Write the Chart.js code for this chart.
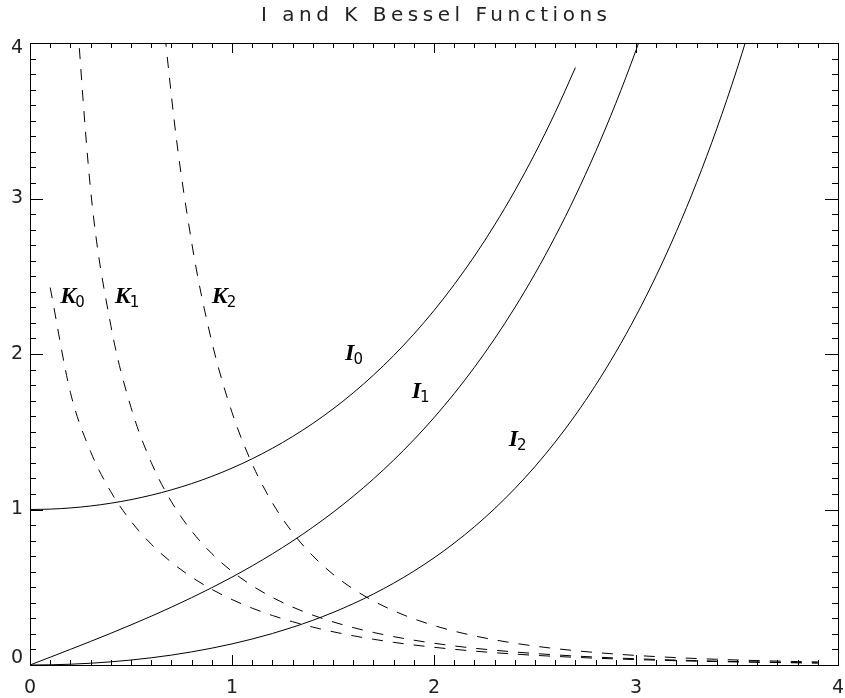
<!DOCTYPE html>
<html>
<head>
<meta charset="utf-8">
<script src="https://cdn.jsdelivr.net/npm/chart.js@4.4.1/dist/chart.umd.min.js"></script>
<style>
 body { margin: 0; background: #fff; }
 #wrap { width: 845px; height: 698px; }
</style>
</head>
<body>
<div id="wrap"><canvas id="besselChart" width="845" height="698"></canvas></div>
<script>
var xValues = [0.0, 0.1, 0.2, 0.3, 0.4, 0.5, 0.6, 0.7, 0.8, 0.9,
 1.0, 1.1, 1.2, 1.3, 1.4, 1.5, 1.6, 1.7, 1.8, 1.9,
 2.0, 2.1, 2.2, 2.3, 2.4, 2.5, 2.6, 2.7, 2.8, 2.9,
 3.0, 3.1, 3.2, 3.3, 3.4, 3.5, 3.6, 3.7, 3.8, 3.9, 4.0];

var i0Values = [1.0000, 1.0025, 1.0100, 1.0226, 1.0404, 1.0635, 1.0920, 1.1263, 1.1665, 1.2130,
 1.2661, 1.3262, 1.3937, 1.4693, 1.5534, 1.6467, 1.7500, 1.8640, 1.9896, 2.1277,
 2.2796, 2.4463, 2.6291, 2.8296, 3.0493, 3.2898, 3.5533, 3.8417, null, null,
 null, null, null, null, null, null, null, null, null, null, null];

var i1Values = [0.0000, 0.0501, 0.1005, 0.1517, 0.2040, 0.2579, 0.3137, 0.3719, 0.4329, 0.4971,
 0.5652, 0.6375, 0.7147, 0.7973, 0.8861, 0.9817, 1.0848, 1.1963, 1.3172, 1.4482,
 1.5906, 1.7455, 1.9141, 2.0978, 2.2981, 2.5167, 2.7554, 3.0161, 3.3011, 3.6126,
 3.9534, 4.3262, null, null, null, null, null, null, null, null, null];

var i2Values = [0.0000, 0.0013, 0.0050, 0.0113, 0.0203, 0.0319, 0.0464, 0.0637, 0.0843, 0.1083,
 0.1357, 0.1671, 0.2025, 0.2427, 0.2875, 0.3378, 0.3940, 0.4566, 0.5260, 0.6033,
 0.6889, 0.7839, 0.8890, 1.0054, 1.1342, 1.2765, 1.4338, 1.6075, 1.7994, 2.0116,
 2.2452, 2.5034, 2.7883, 3.1026, 3.4494, 3.8320, 4.2540, null, null, null, null];

var k0Values = [null, 2.4271, 1.7527, 1.3725, 1.1145, 0.9244, 0.7775, 0.6605, 0.5653, 0.4867,
 0.4210, 0.3656, 0.3185, 0.2782, 0.2437, 0.2138, 0.1880, 0.1655, 0.1459, 0.1288,
 0.1139, 0.1008, 0.0893, 0.0791, 0.0702, 0.0623, 0.0554, 0.0493, 0.0438, 0.0390,
 0.0347, 0.0310, 0.0276, 0.0246, 0.0220, 0.0196, 0.0175, 0.0156, 0.0140, 0.0125, null];

var k1Values = [null, null, 4.7760, 3.0560, 2.1844, 1.6564, 1.3028, 1.0503, 0.8618, 0.7165,
 0.6019, 0.5098, 0.4346, 0.3725, 0.3208, 0.2774, 0.2406, 0.2094, 0.1826, 0.1597,
 0.1399, 0.1227, 0.1079, 0.0950, 0.0837, 0.0739, 0.0653, 0.0577, 0.0511, 0.0453,
 0.0402, 0.0356, 0.0316, 0.0281, 0.0250, 0.0222, 0.0198, 0.0176, 0.0157, 0.0140, null];

var k2Values = [null, null, null, null, null, 7.5500, 5.1200, 3.6610, 2.7200, 2.0790,
 1.6248, 1.2925, 1.0428, 0.8513, 0.7020, 0.5837, 0.4888, 0.4119, 0.3488, 0.2969,
 0.2538, 0.2177, 0.1874, 0.1617, 0.1400, 0.1214, 0.1056, 0.0920, 0.0803, 0.0702,
 0.0615, 0.0540, 0.0474, 0.0416, 0.0367, 0.0323, 0.0285, 0.0251, 0.0223, 0.0197, null];

var tickLabels = ["0", "1", "2", "3", "4"];
var minorPerMajor = 10;
var chartTitle = "I and K Bessel Functions";

// curve labels: letter, subscript, anchor in data units
var curveLabels = [
 { name: "K", sub: "0", x: 0.15, y: 2.33 },
 { name: "K", sub: "1", x: 0.42, y: 2.33 },
 { name: "K", sub: "2", x: 0.90, y: 2.33 },
 { name: "I", sub: "0", x: 1.56, y: 1.96 },
 { name: "I", sub: "1", x: 1.89, y: 1.72 },
 { name: "I", sub: "2", x: 2.37, y: 1.41 }
];

function toPoints(arr) {
 return xValues.map(function (x, i) {
  return { x: x, y: arr[i] };
 });
}

function makeSet(label, arr, dashed) {
 return {
  label: label,
  data: toPoints(arr),
  borderColor: "#000",
  borderWidth: 1,
  borderDash: dashed ? [11, 10] : [],
  pointRadius: 0,
  fill: false,
  cubicInterpolationMode: "monotone",
  spanGaps: false
 };
}

var framePlugin = {
 id: "idlFrame",
 afterDraw: function (chart) {
  var ctx = chart.ctx;
  var a = chart.chartArea;
  var xs = chart.scales.x;
  var ys = chart.scales.y;
  ctx.save();

  // box
  ctx.strokeStyle = "#000";
  ctx.lineWidth = 1;
  ctx.strokeRect(Math.round(a.left) + 0.5, Math.round(a.top) + 0.5,
   Math.round(a.right - a.left), Math.round(a.bottom - a.top));

  // ticks on all four sides
  var first = Number(tickLabels[0]);
  var last = Number(tickLabels[tickLabels.length - 1]);
  var nSteps = (last - first) * minorPerMajor;
  ctx.beginPath();
  for (var s = 0; s <= nSteps; s++) {
   var v = first + s / minorPerMajor;
   var major = s % minorPerMajor === 0;
   var px = Math.round(xs.getPixelForValue(v)) + 0.5;
   var py = Math.round(ys.getPixelForValue(v)) + 0.5;
   var lx = major ? 10 : 5;
   var ly = major ? 13 : 6;
   ctx.moveTo(px, a.bottom); ctx.lineTo(px, a.bottom - lx);
   ctx.moveTo(px, a.top); ctx.lineTo(px, a.top + lx);
   ctx.moveTo(a.left, py); ctx.lineTo(a.left + ly, py);
   ctx.moveTo(a.right, py); ctx.lineTo(a.right - ly, py);
  }
  ctx.stroke();

  // tick labels
  ctx.fillStyle = "#222";
  ctx.font = "19px 'DejaVu Sans'";
  tickLabels.forEach(function (t) {
   var v = Number(t);
   ctx.textAlign = "center";
   ctx.textBaseline = "middle";
   ctx.fillText(t, xs.getPixelForValue(v), a.bottom + 23);
   var py = Math.min(Math.max(ys.getPixelForValue(v), a.top + 5), a.bottom - 7);
   ctx.textAlign = "right";
   ctx.fillText(t, a.left - 7, py);
  });

  // title, widened to the vector-font look
  ctx.font = "20px 'DejaVu Sans'";
  ctx.textAlign = "left";
  ctx.textBaseline = "alphabetic";
  var w = ctx.measureText(chartTitle).width;
  var target = 346;
  ctx.letterSpacing = ((target - w) / (chartTitle.length - 1)).toFixed(2) + "px";
  var tx = (a.left + a.right) / 2 - target / 2;
  ctx.fillText(chartTitle, tx, 21);
  ctx.letterSpacing = "0px";

  // curve labels
  ctx.fillStyle = "#000";
  curveLabels.forEach(function (c) {
   var px = xs.getPixelForValue(c.x);
   var py = ys.getPixelForValue(c.y);
   ctx.font = "italic bold 24px 'Liberation Serif'";
   ctx.fillText(c.name, px, py);
   var nw = ctx.measureText(c.name).width;
   ctx.font = "15px 'DejaVu Sans'";
   ctx.fillText(c.sub, px + nw - 1, py + 4);
  });

  ctx.restore();
 }
};

var ctxEl = document.getElementById("besselChart");
new Chart(ctxEl, {
 type: "line",
 data: {
  datasets: [
   makeSet("I0", i0Values, false),
   makeSet("I1", i1Values, false),
   makeSet("I2", i2Values, false),
   makeSet("K0", k0Values, true),
   makeSet("K1", k1Values, true),
   makeSet("K2", k2Values, true)
  ]
 },
 options: {
  responsive: false,
  animation: false,
  layout: { padding: { left: 30, right: 7, top: 43, bottom: 33 } },
  plugins: { legend: { display: false }, tooltip: { enabled: false } },
  scales: {
   x: { type: "linear", min: 0, max: 4, display: false },
   y: { type: "linear", min: 0, max: 4, display: false }
  }
 },
 plugins: [framePlugin]
});
</script>
</body>
</html>
